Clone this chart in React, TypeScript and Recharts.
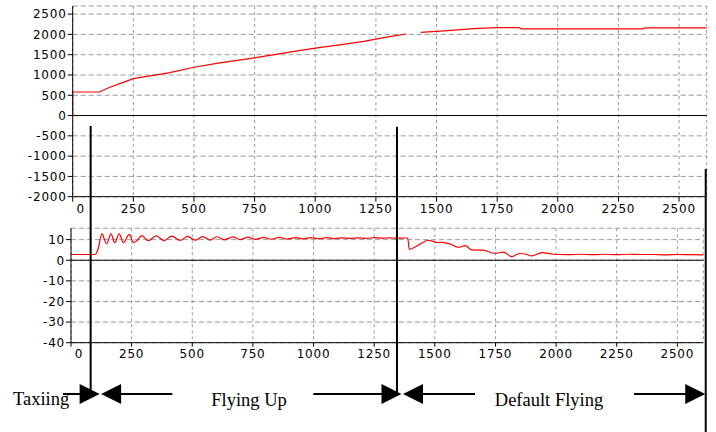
import React from "react";
import { LineChart, Line, XAxis, YAxis, CartesianGrid, ReferenceLine } from "recharts";

// ---- data ----
const topTime = [0, 0, 110, 150, 200, 250, 300, 400, 500, 600, 700, 800, 900, 1000, 1100, 1200, 1300, 1375, 1405, 1435, 1500, 1560, 1650, 1750, 1840, 1850, 2350, 2360, 2614];
const topValue = [0, 580, 580, 690, 800, 910, 960, 1060, 1190, 1290, 1380, 1470, 1570, 1660, 1740, 1830, 1940, 2010, null, 2050, 2076, 2100, 2140, 2165, 2165, 2135, 2135, 2160, 2160];

const bottomTime = [0, 100, 113, 127, 147, 165, 180, 199, 216, 240, 258, 270, 292, 318, 352, 384, 415, 450, 481, 511, 543, 573, 601, 631, 667, 697, 730, 760, 795, 825, 860, 890, 925, 955, 990, 1020, 1055, 1085, 1120, 1150, 1185, 1215, 1250, 1280, 1310, 1340, 1375, 1388, 1395, 1430, 1474, 1490, 1508, 1530, 1563, 1597, 1625, 1652, 1700, 1744, 1783, 1817, 1851, 1875, 1900, 1941, 1989, 2050, 2100, 2150, 2200, 2250, 2300, 2350, 2400, 2450, 2500, 2550, 2607];
const bottomValue = [2.8, 2.8, 6, 12.8, 8, 12.8, 8.5, 12.8, 8.5, 12.6, 8.6, 9.3, 11.9, 9.5, 11.8, 9.5, 11.7, 9.6, 11.6, 9.7, 11.5, 9.8, 11.4, 9.9, 11.3, 10, 11.2, 10.1, 11.1, 10.2, 11.1, 10.3, 11, 10.4, 11, 10.5, 11, 10.5, 10.9, 10.6, 10.9, 10.6, 11, 10.7, 10.9, 10.7, 10.8, 10.8, 5.3, 7.2, 9.7, 9.3, 8.6, 8.7, 7.9, 6.3, 7.1, 5.0, 4.9, 3.4, 3.9, 1.8, 3.4, 2.9, 2.1, 3.7, 2.9, 2.7, 2.9, 2.7, 2.9, 2.7, 2.9, 2.8, 2.8, 2.6, 2.8, 2.7, 2.6];

const xTicks = [0, 250, 500, 750, 1000, 1250, 1500, 1750, 2000, 2250, 2500];
const topYTicks = [-2000, -1500, -1000, -500, 0, 500, 1000, 1500, 2000, 2500];
const bottomYTicks = [-40, -30, -20, -10, 0, 10];

const phaseLabels = ["Taxiing", "Flying Up", "Default Flying"];
const phaseEnds = [74, 1337, 2610];

const topData = topTime.map((t, i) => ({ t, v: topValue[i] }));
const bottomData = bottomTime.map((t, i) => ({ t, v: bottomValue[i] }));

// ---- geometry ----
const W = 716;
const TOP_LEFT = 72.7;
const TOP_RIGHT_MARGIN = 9.3;
const TOP_XMAX = 2614;
const xOf = (t: number) => TOP_LEFT + (t * (W - TOP_RIGHT_MARGIN - TOP_LEFT)) / TOP_XMAX;

const SANS = "DejaVu Sans, Verdana, sans-serif";
const SERIF = "Liberation Serif, Times New Roman, serif";

const XTick = (props: any) => {
  const { x, y, payload } = props;
  const dx = payload.value === 0 ? 8 : 0;
  return (
    <text x={x + dx} y={y} dy="0.71em" textAnchor="middle" fontFamily={SANS} fontSize={12} fill="#000" letterSpacing={0.8}>
      {payload.value}
    </text>
  );
};

const YTick = (props: any) => {
  const { x, y, payload } = props;
  return (
    <text x={x} y={y} dy="0.355em" textAnchor="end" fontFamily={SANS} fontSize={12} fill="#000" letterSpacing={0.8}>
      {payload.value}
    </text>
  );
};

const RightArrow = ({ tip, y }: { tip: number; y: number }) => (
  <polygon points={`${tip},${y} ${tip - 20},${y - 10} ${tip - 20},${y + 10}`} fill="#000" />
);
const LeftArrow = ({ tip, y }: { tip: number; y: number }) => (
  <polygon points={`${tip},${y} ${tip + 20},${y - 10} ${tip + 20},${y + 10}`} fill="#000" />
);

const Overlay = () => {
  const ay = 394;
  const b1 = xOf(phaseEnds[0]);
  const b2 = xOf(phaseEnds[1]);
  const b3 = xOf(phaseEnds[2]);
  return (
    <svg width={W} height={432} style={{ position: "absolute", left: 0, top: 0, pointerEvents: "none" }}>
      {/* phase boundaries */}
      <line x1={b1} y1={126} x2={b1} y2={ay} stroke="#000" strokeWidth={2} />
      <line x1={b2} y1={126.7} x2={b2} y2={ay} stroke="#000" strokeWidth={2} />
      <line x1={b3} y1={169} x2={b3} y2={432} stroke="#000" strokeWidth={2} />

      {/* Taxiing */}
      <line x1={63} y1={ay} x2={81} y2={ay} stroke="#000" strokeWidth={2} />
      <RightArrow tip={b1 + 9} y={ay} />
      <text x={13} y={405} fontFamily={SERIF} fontSize={18.5} fill="#000">{phaseLabels[0]}</text>

      {/* Flying Up */}
      <LeftArrow tip={b1 + 10.5} y={ay} />
      <line x1={b1 + 30} y1={ay} x2={172.3} y2={ay} stroke="#000" strokeWidth={2} />
      <text x={249} y={406} textAnchor="middle" fontFamily={SERIF} fontSize={18.5} fill="#000">{phaseLabels[1]}</text>
      <line x1={313.3} y1={ay} x2={b2 - 13} y2={ay} stroke="#000" strokeWidth={2} />
      <RightArrow tip={b2 + 4.5} y={ay} />

      {/* Default Flying */}
      <LeftArrow tip={b2 + 6} y={ay} />
      <line x1={b2 + 25} y1={ay} x2={475} y2={ay} stroke="#000" strokeWidth={2} />
      <text x={549} y={406} textAnchor="middle" fontFamily={SERIF} fontSize={18.5} fill="#000">{phaseLabels[2]}</text>
      <line x1={634} y1={ay} x2={b3 - 19} y2={ay} stroke="#000" strokeWidth={2} />
      <RightArrow tip={b3 - 0.5} y={ay} />
    </svg>
  );
};

export default function App() {
  return (
    <div style={{ position: "absolute", left: 0, top: 0, width: W, height: 432, background: "#fff" }}>
      <div style={{ position: "absolute", left: 0, top: 0 }}>
        <LineChart width={W} height={222} data={topData} margin={{ top: 6, right: TOP_RIGHT_MARGIN, bottom: 0, left: 0 }}>
          <CartesianGrid horizontal={true} vertical={false} stroke="#999" strokeDasharray="5 3" />
          <CartesianGrid horizontal={false} vertical={true} stroke="#999" strokeDasharray="3 3" />
          <XAxis
            dataKey="t"
            type="number"
            domain={[0, TOP_XMAX]}
            ticks={xTicks}
            allowDataOverflow
            height={25.3}
            tickSize={5}
            tickMargin={3}
            stroke="#000"
            tick={<XTick />}
            interval={0}
          />
          <YAxis
            type="number"
            domain={[-2000, 2700]}
            ticks={topYTicks}
            allowDataOverflow
            width={TOP_LEFT}
            tickSize={5}
            tickMargin={1}
            stroke="#000"
            tick={<YTick />}
            interval={0}
          />
          <ReferenceLine y={0} stroke="#000" strokeWidth={1} />
          <Line type="linear" dataKey="v" stroke="#ff0000" strokeWidth={1.2} dot={false} isAnimationActive={false} connectNulls={false} />
        </LineChart>
      </div>
      <div style={{ position: "absolute", left: 0, top: 220 }}>
        <LineChart width={W} height={150} data={bottomData} margin={{ top: 8.3, right: 12.7, bottom: 0, left: 0 }}>
          <CartesianGrid horizontal={true} vertical={false} stroke="#999" strokeDasharray="5 3" />
          <CartesianGrid horizontal={false} vertical={true} stroke="#999" strokeDasharray="3 3" />
          <XAxis
            dataKey="t"
            type="number"
            domain={[0, 2607]}
            ticks={xTicks}
            allowDataOverflow
            height={27.3}
            tickSize={4}
            tickMargin={3}
            stroke="#000"
            tick={<XTick />}
            interval={0}
          />
          <YAxis
            type="number"
            domain={[-40, 15.5]}
            ticks={bottomYTicks}
            allowDataOverflow
            width={71}
            tickSize={5}
            tickMargin={1}
            stroke="#000"
            tick={<YTick />}
            interval={0}
          />
          <ReferenceLine y={0} stroke="#000" strokeWidth={1} />
          <Line type="monotone" dataKey="v" stroke="#ff0000" strokeWidth={1.2} dot={false} isAnimationActive={false} connectNulls={false} />
        </LineChart>
      </div>
      <Overlay />
    </div>
  );
}
